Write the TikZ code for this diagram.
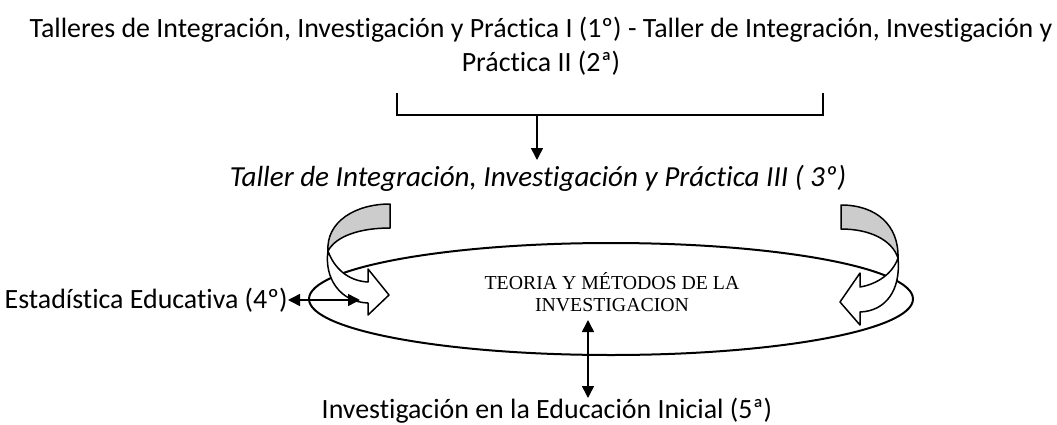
\documentclass[tikz,border=0pt]{standalone}
\usepackage{fontspec}
\setmainfont{Carlito}[Ligatures={NoCommon}]
\newfontfamily\tnr{Liberation Serif}
\usetikzlibrary{arrows.meta,shapes.geometric}
\begin{document}
\begin{tikzpicture}[x=0.5pt,y=-0.5pt,
  txt/.style={font=\fontsize{13.95}{16}\selectfont, inner sep=0pt},
  conn/.style={line width=0.75pt},
  tri/.style={conn, -{Triangle[length=6pt,width=6pt]}},
  dtri/.style={conn, {Triangle[length=6pt,width=6pt]}-{Triangle[length=6pt,width=6pt]}},
  band/.style={line width=0.75pt, line join=round, fill=white},
  back/.style={line width=0.75pt, line join=round, fill=black!20}]
\useasboundingbox (0,0) rectangle (1057,424);

% top texts
\node[txt] (t1) at (541,30) {Talleres de Integración, Investigación y Práctica I (1º) - Taller de Integración, Investigación y};
\node[txt] (t2) at (541,63) {Práctica II (2ª)};

% bracket
\coordinate (bl) at (397,93);
\coordinate (br) at (823,93);
\coordinate (bm) at (537,115);
\draw[conn] (bl) -- (397,115) -- (823,115) -- (br);

% italic title
\node[txt, font=\fontsize{14.55}{16}\selectfont\itshape] (title) at (538,178) {Taller de Integración, Investigación y Práctica III ( 3º)};
\draw[tri] (bm) -- (bm |- 0,160);

% ellipse
\node[draw, ellipse, line width=1pt, inner sep=0pt, minimum width=302pt, minimum height=56pt] (ell) at (611,299) {};

% left twisted arrow
\draw[back] (390,204) .. controls (355,204) and (326,222) .. (328,251)
            .. controls (336,236) and (360,228) .. (390,228) -- cycle;
\draw[band] (328,251) .. controls (324,278) and (340,302) .. (368,303)
            -- (368,315) -- (389,295) -- (368,269) -- (368,282)
            .. controls (348,281) and (334,268) .. (328,251) -- cycle;

% right twisted arrow
\draw[back] (841,205) .. controls (876,205) and (899,225) .. (898,258)
            .. controls (892,240) and (870,229) .. (841,229) -- cycle;
\draw[band] (898,258) .. controls (901,290) and (886,311) .. (860,312)
            -- (860,325) -- (840,302) -- (860,273) -- (860,287)
            .. controls (878,284) and (893,273) .. (898,258) -- cycle;

% ellipse text
\node[font=\tnr\fontsize{9.9}{11}\selectfont, align=center, inner sep=0pt] (core) at (612,292) {TEORIA Y MÉTODOS DE LA\\INVESTIGACION};

% left text and double arrow
\node[txt, anchor=east] (est) at (288,300) {Estadística Educativa (4º)};
\coordinate (ea) at (360,300);
\draw[dtri] (est.east) -- (ea);

% bottom text and vertical double arrow
\node[txt] (inv) at (547,411) {Investigación en la Educación Inicial (5ª)};
\coordinate (va) at (588,320);
\draw[dtri] (va) -- (va |- inv.north);
\end{tikzpicture}
\end{document}
